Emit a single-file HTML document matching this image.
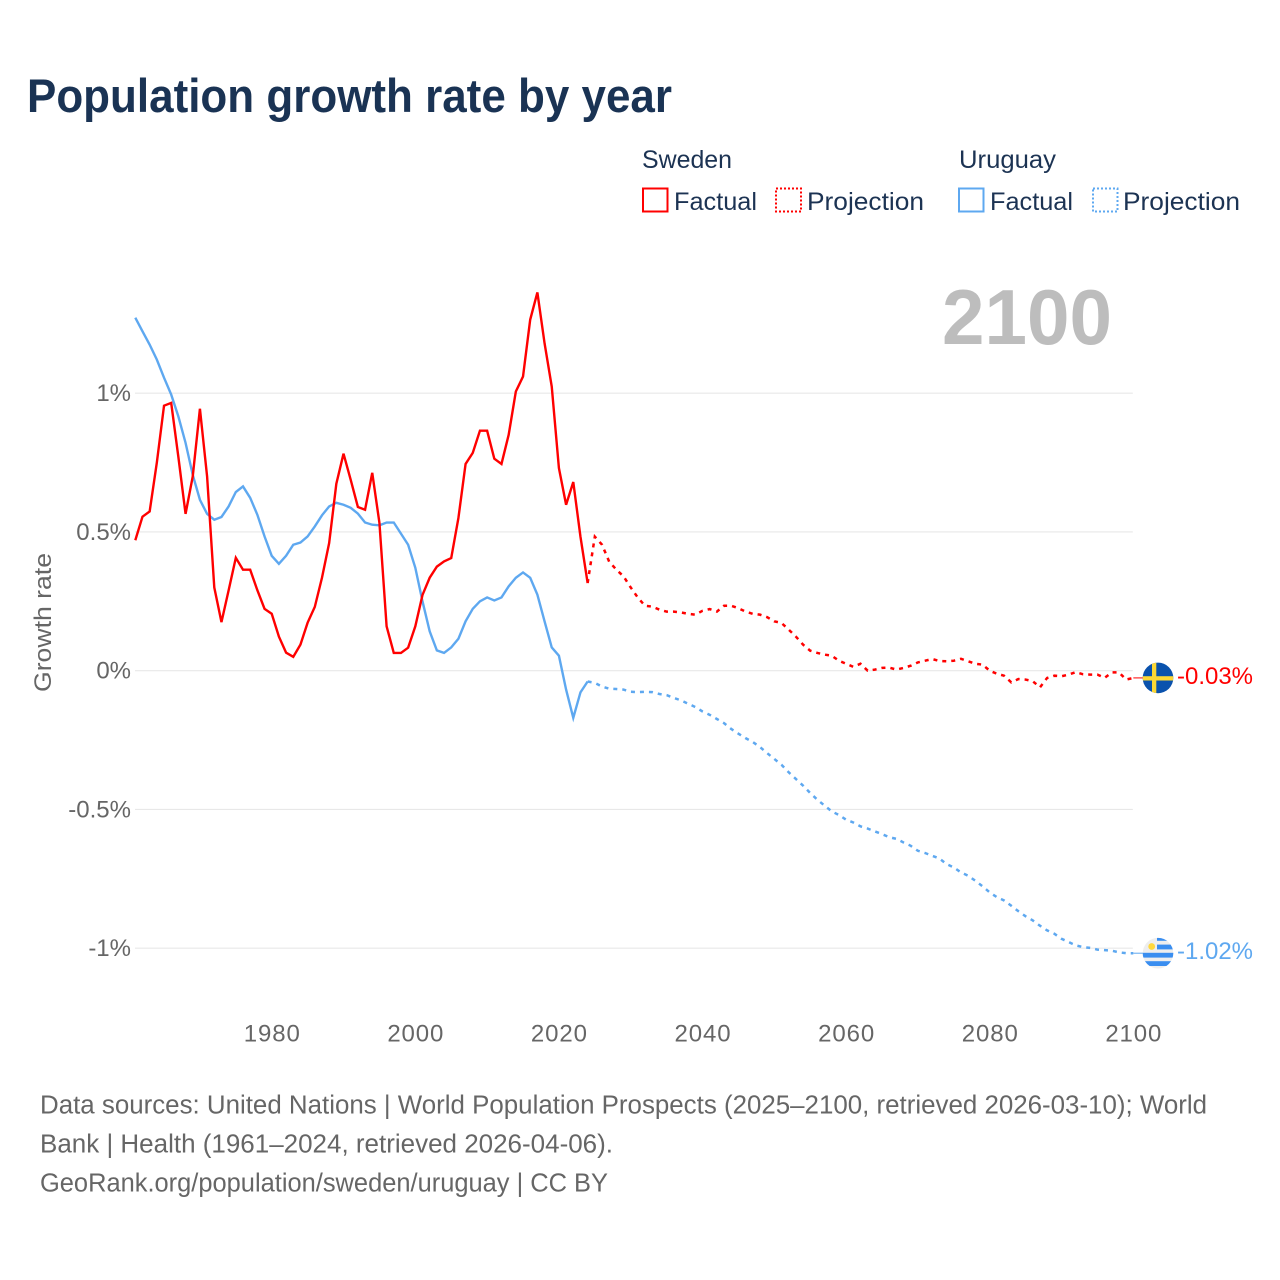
<!DOCTYPE html>
<html lang="en">
<head>
<meta charset="utf-8">
<title>Population growth rate by year</title>
<style>
html,body{margin:0;padding:0;background:#fff;width:1280px;height:1280px;overflow:hidden}
svg{display:block}
text{font-family:"Liberation Sans",sans-serif}
.leg{fill:#1c3353;font-size:25px}
.foot{fill:#666;font-size:25.5px}
.tick{fill:#666;font-size:24px}
</style>
</head>
<body>
<svg id="chart" xmlns="http://www.w3.org/2000/svg" width="1280" height="1280" viewBox="0 0 1280 1280">
  <rect width="1280" height="1280" fill="#fff"/>
  <text x="27" y="112" font-size="47" font-weight="700" fill="#1a3354" textLength="645" lengthAdjust="spacingAndGlyphs">Population growth rate by year</text>

  <g>
    <text class="leg" x="642" y="168" textLength="90" lengthAdjust="spacingAndGlyphs">Sweden</text>
    <text class="leg" x="959" y="168" textLength="97" lengthAdjust="spacingAndGlyphs">Uruguay</text>
    <g>
      <rect x="643" y="188.5" width="24.5" height="23" fill="none" stroke="#ff0000" stroke-width="2"/>
      <text class="leg" x="674" y="210" textLength="83" lengthAdjust="spacingAndGlyphs">Factual</text>
    </g>
    <g>
      <rect x="776" y="188.5" width="25" height="23" fill="none" stroke="#ff0000" stroke-width="2" stroke-dasharray="2 2"/>
      <text class="leg" x="807" y="210" textLength="117" lengthAdjust="spacingAndGlyphs">Projection</text>
    </g>
    <g>
      <rect x="959" y="188.5" width="24.5" height="23" fill="none" stroke="#5ea8f0" stroke-width="2"/>
      <text class="leg" x="990" y="210" textLength="83" lengthAdjust="spacingAndGlyphs">Factual</text>
    </g>
    <g>
      <rect x="1093" y="188.5" width="24.5" height="23" fill="none" stroke="#5ea8f0" stroke-width="2" stroke-dasharray="2 2"/>
      <text class="leg" x="1123" y="210" textLength="117" lengthAdjust="spacingAndGlyphs">Projection</text>
    </g>
  </g>

  <text x="942" y="344" font-size="78" font-weight="700" fill="#bdbdbd" textLength="170" lengthAdjust="spacingAndGlyphs">2100</text>
  <text transform="translate(51 692) rotate(-90)" font-size="24.5" fill="#666" textLength="139" lengthAdjust="spacingAndGlyphs">Growth rate</text>

  <g id="grid"></g>
  <g id="yticks"></g>
  <g id="xticks"></g>
  <g id="series"></g>
  <g id="ends"></g>

  <text class="foot" x="40" y="1113.5" textLength="1167" lengthAdjust="spacingAndGlyphs">Data sources: United Nations | World Population Prospects (2025–2100, retrieved 2026-03-10); World</text>
  <text class="foot" x="40" y="1152.5" textLength="573" lengthAdjust="spacingAndGlyphs">Bank | Health (1961–2024, retrieved 2026-04-06).</text>
  <text class="foot" x="40" y="1191.5" textLength="568" lengthAdjust="spacingAndGlyphs">GeoRank.org/population/sweden/uruguay | CC BY</text>
</svg>

<script>
const factualStartYear = 1961;
const projectionStartYear = 2024;
const xTickYears = [1980, 2000, 2020, 2040, 2060, 2080, 2100];
const yTickValues = [1, 0.5, 0, -0.5, -1];
const yTickLabels = ["1%", "0.5%", "0%", "-0.5%", "-1%"];
const endLabels = ["-0.03%", "-1.02%"];

const swedenFactual = [
  0.47,0.555,0.574,0.75,0.955,0.965,0.77,0.565,0.70,0.944,
  0.70,0.30,0.175,0.29,0.407,0.364,0.364,0.29,0.223,0.205,
  0.123,0.065,0.05,0.094,0.173,0.23,0.335,0.46,0.674,0.782,
  0.688,0.59,0.58,0.713,0.533,0.16,0.064,0.064,0.083,0.16,
  0.273,0.335,0.375,0.394,0.406,0.55,0.745,0.785,0.865,0.865,
  0.764,0.745,0.85,1.006,1.06,1.265,1.363,1.18,1.024,0.73,
  0.598,0.68,0.483,0.316
];
const swedenProjection = [
  0.316,0.483,0.454,0.393,0.364,0.34,0.30,0.263,0.234,0.231,
  0.22,0.213,0.213,0.21,0.205,0.202,0.216,0.222,0.213,0.234,
  0.234,0.225,0.213,0.205,0.202,0.193,0.178,0.172,0.148,0.123,
  0.094,0.072,0.064,0.058,0.054,0.036,0.025,0.014,0.025,0.0,
  0.004,0.01,0.011,0.004,0.01,0.018,0.03,0.036,0.042,0.035,
  0.034,0.036,0.043,0.034,0.025,0.022,0.0,-0.011,-0.018,-0.042,
  -0.03,-0.032,-0.038,-0.06,-0.026,-0.018,-0.02,-0.014,-0.005,-0.013,
  -0.014,-0.014,-0.026,-0.006,-0.006,-0.032,-0.026
];
const uruguayFactual = [
  1.272,1.223,1.175,1.121,1.056,0.995,0.916,0.821,0.706,0.616,
  0.565,0.544,0.554,0.592,0.644,0.664,0.623,0.562,0.484,0.414,
  0.385,0.414,0.454,0.462,0.484,0.52,0.56,0.592,0.605,0.598,
  0.587,0.566,0.534,0.526,0.524,0.534,0.534,0.494,0.454,0.371,
  0.25,0.142,0.073,0.064,0.084,0.115,0.178,0.223,0.25,0.264,
  0.253,0.264,0.304,0.335,0.354,0.335,0.274,0.178,0.084,0.054,
  -0.068,-0.17,-0.078,-0.039
];
const uruguayProjection = [
  -0.039,-0.044,-0.057,-0.065,-0.066,-0.068,-0.076,-0.077,-0.076,-0.077,
  -0.084,-0.088,-0.098,-0.107,-0.119,-0.131,-0.147,-0.159,-0.174,-0.189,
  -0.21,-0.227,-0.243,-0.257,-0.275,-0.297,-0.318,-0.339,-0.366,-0.39,
  -0.414,-0.441,-0.465,-0.486,-0.507,-0.52,-0.537,-0.547,-0.561,-0.569,
  -0.579,-0.589,-0.6,-0.606,-0.619,-0.631,-0.649,-0.657,-0.667,-0.677,
  -0.697,-0.709,-0.727,-0.739,-0.757,-0.777,-0.799,-0.816,-0.828,-0.847,
  -0.867,-0.885,-0.9,-0.919,-0.936,-0.948,-0.966,-0.978,-0.99,-0.996,
  -0.999,-1.005,-1.007,-1.009,-1.015,-1.018,-1.018
];

const NS = "http://www.w3.org/2000/svg";
const RED = "#ff0000";
const BLUE = "#5ea8f0";
const xScale = function (year) { return 135.3 + (year - 1961) * 7.18; };
const yScale = function (v) { return 670.7 - v * 277.5; };

function polyPoints(values, startYear) {
  return values.map(function (v, i) {
    return xScale(startYear + i).toFixed(2) + "," + yScale(v).toFixed(2);
  }).join(" ");
}

const grid = document.getElementById("grid");
const yticks = document.getElementById("yticks");
yTickValues.forEach(function (v, i) {
  const line = document.createElementNS(NS, "line");
  
  
  line.setAttribute("x1", 135);
  line.setAttribute("x2", xScale(2100) - 0.5);
  line.setAttribute("y1", yScale(v));
  line.setAttribute("y2", yScale(v));
  line.setAttribute("stroke", "#e8e8e8");
  line.setAttribute("stroke-width", "1.2");
  grid.appendChild(line);

  const label = document.createElementNS(NS, "text");
  
  
  label.setAttribute("class", "tick");
  label.setAttribute("x", 131);
  label.setAttribute("y", yScale(v) + 8);
  label.setAttribute("text-anchor", "end");
  label.textContent = yTickLabels[i];
  yticks.appendChild(label);
});

const xticks = document.getElementById("xticks");
xTickYears.forEach(function (year) {
  const label = document.createElementNS(NS, "text");
  
  
  label.setAttribute("class", "tick");
  label.setAttribute("x", xScale(year) + 0.5);
  label.setAttribute("y", 1041.5);
  label.setAttribute("text-anchor", "middle");
  label.setAttribute("letter-spacing", "0.9");
  label.textContent = String(year);
  xticks.appendChild(label);
});

const seriesGroup = document.getElementById("series");

const uruguayProjLine = document.createElementNS(NS, "polyline");


uruguayProjLine.setAttribute("points", polyPoints(uruguayProjection, projectionStartYear));
uruguayProjLine.setAttribute("fill", "none");
uruguayProjLine.setAttribute("stroke", BLUE);
uruguayProjLine.setAttribute("stroke-width", "2.5");
uruguayProjLine.setAttribute("stroke-dasharray", "4 5");
seriesGroup.appendChild(uruguayProjLine);

const uruguayFactLine = document.createElementNS(NS, "polyline");


uruguayFactLine.setAttribute("points", polyPoints(uruguayFactual, factualStartYear));
uruguayFactLine.setAttribute("fill", "none");
uruguayFactLine.setAttribute("stroke", BLUE);
uruguayFactLine.setAttribute("stroke-width", "2.4");
seriesGroup.appendChild(uruguayFactLine);

const swedenFactLine = document.createElementNS(NS, "polyline");


swedenFactLine.setAttribute("points", polyPoints(swedenFactual, factualStartYear));
swedenFactLine.setAttribute("fill", "none");
swedenFactLine.setAttribute("stroke", RED);
swedenFactLine.setAttribute("stroke-width", "2.4");
seriesGroup.appendChild(swedenFactLine);

const swedenProjLine = document.createElementNS(NS, "polyline");


swedenProjLine.setAttribute("points", polyPoints(swedenProjection, projectionStartYear));
swedenProjLine.setAttribute("fill", "none");
swedenProjLine.setAttribute("stroke", RED);
swedenProjLine.setAttribute("stroke-width", "2.5");
swedenProjLine.setAttribute("stroke-dasharray", "4 5");
seriesGroup.appendChild(swedenProjLine);

/* End markers follow the last projected value of each series */
const ends = document.getElementById("ends");
const endX = xScale(2100);
const flagX = 1158;
const swedenY = yScale(swedenProjection[swedenProjection.length - 1]);
const uruguayY = yScale(uruguayProjection[uruguayProjection.length - 1]);

const swedenConnector = document.createElementNS(NS, "line");


swedenConnector.setAttribute("x1", endX);
swedenConnector.setAttribute("y1", swedenY);
swedenConnector.setAttribute("x2", 1146);
swedenConnector.setAttribute("y2", swedenY);
swedenConnector.setAttribute("stroke", RED);
swedenConnector.setAttribute("stroke-width", "1");
ends.appendChild(swedenConnector);

const uruguayConnector = document.createElementNS(NS, "line");


uruguayConnector.setAttribute("x1", endX);
uruguayConnector.setAttribute("y1", uruguayY);
uruguayConnector.setAttribute("x2", 1146);
uruguayConnector.setAttribute("y2", uruguayY);
uruguayConnector.setAttribute("stroke", BLUE);
uruguayConnector.setAttribute("stroke-width", "1");
ends.appendChild(uruguayConnector);

const defs = document.createElementNS(NS, "defs");
const clipSweden = document.createElementNS(NS, "clipPath");
clipSweden.setAttribute("id", "clip-sweden");
const clipSwedenCircle = document.createElementNS(NS, "circle");
clipSwedenCircle.setAttribute("cx", flagX);
clipSwedenCircle.setAttribute("cy", swedenY);
clipSwedenCircle.setAttribute("r", 15.3);
clipSweden.appendChild(clipSwedenCircle);
defs.appendChild(clipSweden);
const clipUruguay = document.createElementNS(NS, "clipPath");
clipUruguay.setAttribute("id", "clip-uruguay");
const clipUruguayCircle = document.createElementNS(NS, "circle");
clipUruguayCircle.setAttribute("cx", flagX);
clipUruguayCircle.setAttribute("cy", uruguayY);
clipUruguayCircle.setAttribute("r", 15.3);
clipUruguay.appendChild(clipUruguayCircle);
defs.appendChild(clipUruguay);
ends.appendChild(defs);

const flagSweden = document.createElementNS(NS, "g");


flagSweden.setAttribute("clip-path", "url(#clip-sweden)");
flagSweden.innerHTML =
  '<rect x="' + (flagX - 16) + '" y="' + (swedenY - 16) + '" width="32" height="32" fill="#0a52ad"/>' +
  '<rect x="' + (flagX - 16) + '" y="' + (swedenY - 1.7) + '" width="32" height="4.3" fill="#fdd835"/>' +
  '<rect x="' + (flagX - 6) + '" y="' + (swedenY - 16) + '" width="4.3" height="32" fill="#fdd835"/>';
ends.appendChild(flagSweden);

const flagUruguay = document.createElementNS(NS, "g");


flagUruguay.setAttribute("clip-path", "url(#clip-uruguay)");
flagUruguay.innerHTML =
  '<rect x="' + (flagX - 16) + '" y="' + (uruguayY - 16) + '" width="32" height="32" fill="#eeeeee"/>' +
  '<rect x="' + (flagX - 1) + '" y="' + (uruguayY - 16) + '" width="17" height="3.6" fill="#3a8ef0"/>' +
  '<rect x="' + (flagX - 1) + '" y="' + (uruguayY - 8.6) + '" width="17" height="4.8" fill="#3a8ef0"/>' +
  '<rect x="' + (flagX - 16) + '" y="' + (uruguayY - 0.4) + '" width="32" height="4.8" fill="#3a8ef0"/>' +
  '<rect x="' + (flagX - 16) + '" y="' + (uruguayY + 8) + '" width="32" height="4.8" fill="#3a8ef0"/>' +
  '<circle cx="' + (flagX - 6.3) + '" cy="' + (uruguayY - 6.7) + '" r="3.4" fill="#ffd83d"/>';
ends.appendChild(flagUruguay);

const swedenEndLabel = document.createElementNS(NS, "text");


swedenEndLabel.setAttribute("x", 1177);
swedenEndLabel.setAttribute("y", swedenY + 6);
swedenEndLabel.setAttribute("font-size", "24");
swedenEndLabel.setAttribute("fill", RED);
swedenEndLabel.setAttribute("textLength", "76");
swedenEndLabel.setAttribute("lengthAdjust", "spacingAndGlyphs");
swedenEndLabel.textContent = endLabels[0];
ends.appendChild(swedenEndLabel);

const uruguayEndLabel = document.createElementNS(NS, "text");


uruguayEndLabel.setAttribute("x", 1177);
uruguayEndLabel.setAttribute("y", uruguayY + 6);
uruguayEndLabel.setAttribute("font-size", "24");
uruguayEndLabel.setAttribute("fill", BLUE);
uruguayEndLabel.setAttribute("textLength", "76");
uruguayEndLabel.setAttribute("lengthAdjust", "spacingAndGlyphs");
uruguayEndLabel.textContent = endLabels[1];
ends.appendChild(uruguayEndLabel);
</script>
</body>
</html>
